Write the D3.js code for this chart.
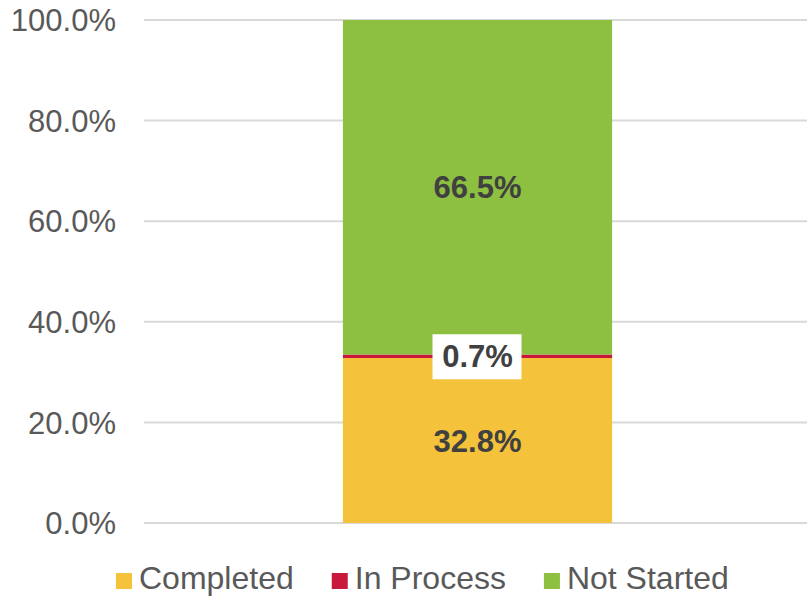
<!DOCTYPE html>
<html lang="en">
<head>
    <meta charset="UTF-8">
    <title>Status Stacked Bar</title>
    <script src="https://cdnjs.cloudflare.com/ajax/libs/d3/7.8.5/d3.min.js"></script>
    <style>
        body { margin: 0; background: #fff; }
        svg { display: block; font-family: "Liberation Sans", Arial, sans-serif; }
        .tick-label { font-size: 31px; fill: #595959; }
        .grid line { stroke: #d9d9d9; stroke-width: 2px; }
        .value-label { font-size: 31px; font-weight: bold; fill: #404040; }
        .legend text { font-size: 32px; fill: #595959; }
    </style>
</head>
<body>
    <svg width="807" height="597"></svg>
    <script>
        // data
        const categories = ["Status"];
        const seriesNames = ["Completed", "In Process", "Not Started"];
        const seriesValues = [32.8, 0.7, 66.5];
        const seriesColors = ["#F4C33B", "#C8193C", "#8DC040"];
        const yTicks = [0, 20, 40, 60, 80, 100];

        const svg = d3.select("svg");
        const margin = {left: 144, right: 0, top: 20, bottom: 74};
        const width = 807, height = 597;

        const x = d3.scaleBand()
            .domain(categories)
            .range([margin.left + 4, width - margin.right])
            .paddingInner(0.42)
            .paddingOuter(0.42);

        const y = d3.scaleLinear()
            .domain([0, 100])
            .range([height - margin.bottom, margin.top]);

        // gridlines
        svg.append("g").attr("class", "grid")
            .selectAll("line")
            .data(yTicks)
            .enter().append("line")
            .attr("x1", margin.left)
            .attr("x2", width - margin.right)
            .attr("y1", d => y(d))
            .attr("y2", d => y(d));

        // y tick labels
        svg.append("g")
            .selectAll("text")
            .data(yTicks)
            .enter().append("text")
            .attr("class", "tick-label")
            .attr("x", 116)
            .attr("y", d => y(d))
            .attr("dy", "0.36em")
            .attr("text-anchor", "end")
            .text(d => d.toFixed(1) + "%");

        // stacked segments
        let acc = 0;
        const segs = seriesValues.map((v, i) => {
            const s = {name: seriesNames[i], y0: acc, y1: acc + v, value: v, color: seriesColors[i]};
            acc += v;
            return s;
        });

        const bar = svg.append("g");
        bar.selectAll("rect")
            .data(segs)
            .enter().append("rect")
            .attr("x", x(categories[0]))
            .attr("width", x.bandwidth())
            .attr("y", d => y(d.y1))
            .attr("height", d => y(d.y0) - y(d.y1))
            .attr("fill", d => d.color);

        // value labels
        const cx = x(categories[0]) + x.bandwidth() / 2;
        const labels = svg.append("g");
        segs.forEach((d, i) => {
            const cy = y((d.y0 + d.y1) / 2);
            const g = labels.append("g");
            g.append("text")
                .attr("class", "value-label")
                .attr("x", cx)
                .attr("y", cy)
                .attr("dy", "0.36em")
                .attr("text-anchor", "middle")
                .text(d.value.toFixed(1) + "%");
            // small slice gets a white box behind its label
            if (d.value < 5) {
                g.insert("rect", "text")
                    .attr("x", cx - 45)
                    .attr("y", cy - 22)
                    .attr("width", 89)
                    .attr("height", 45)
                    .attr("fill", "#fff");
            }
        });

        // legend
        const legend = svg.append("g").attr("class", "legend");
        let lx = 116;
        seriesNames.forEach((name, i) => {
            legend.append("rect")
                .attr("x", lx)
                .attr("y", 573)
                .attr("width", 16)
                .attr("height", 16)
                .attr("fill", seriesColors[i]);
            const t = legend.append("text")
                .attr("x", lx + 23)
                .attr("y", 589)
                .text(name);
            lx += 23 + t.node().getComputedTextLength() + 38;
        });
    </script>
</body>
</html>
